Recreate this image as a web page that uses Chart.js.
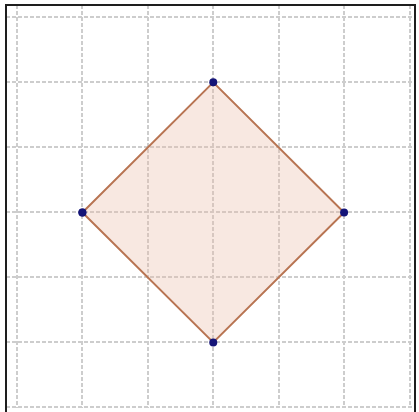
<!DOCTYPE html>
<html>
<head>
<meta charset="utf-8">
<script src="https://cdn.jsdelivr.net/npm/chart.js@4.4.0/dist/chart.umd.min.js"></script>
<style>
  html, body { margin: 0; padding: 0; background: #fff; overflow: hidden; }
  #wrap { width: 419px; height: 412px; position: relative; }
</style>
</head>
<body>
<div id="wrap"><canvas id="chart"></canvas></div>
<script>
// grid lines sit on whole units
const gridTicks = [0, 1, 2, 3, 4, 5, 6];

// diamond vertices (last repeats first to close it)
const shapeX = [1, 3, 5, 3, 1];
const shapeY = [3, 5, 3, 1, 3];

// black frame on left, top and right edges of the plot
const framePlugin = {
    id: 'frame',
    afterDraw(chart) {
        const { ctx, chartArea: a } = chart;
        ctx.save();
        ctx.strokeStyle = '#1e1e1e';
        ctx.lineWidth = 2;
        ctx.beginPath();
        ctx.moveTo(a.left, a.bottom + 4);
        ctx.lineTo(a.left, a.top);
        ctx.lineTo(a.right, a.top);
        ctx.lineTo(a.right, a.bottom + 4);
        ctx.stroke();
        ctx.restore();
    }
};

const gridOpts = {
    color: '#cdcdcd',
    lineWidth: 2,
    drawTicks: false,
    tickLength: 0
};

const ctx = document.getElementById('chart').getContext('2d');
new Chart(ctx, {
    type: 'scatter',
    data: {
        datasets: [{
            data: shapeX.map((x, i) => ({ x: x, y: shapeY[i] })),
            showLine: true,
            fill: 'shape',
            backgroundColor: 'rgba(236, 190, 170, 0.35)',
            borderColor: '#b87452',
            borderWidth: 2,
            pointRadius: 4,
            pointBackgroundColor: '#141478',
            pointBorderColor: '#141478',
            pointBorderWidth: 0
        }]
    },
    options: {
        responsive: true,
        maintainAspectRatio: false,
        animation: false,
        layout: { padding: { left: 6, top: 5, right: 3.5, bottom: 0 } },
        plugins: { legend: { display: false }, tooltip: { enabled: false } },
        scales: {
            x: {
                type: 'linear',
                min: -0.168,
                max: 6.084,
                afterBuildTicks: s => { s.ticks = gridTicks.map(v => ({ value: v })); },
                ticks: { display: false },
                grid: gridOpts,
                border: { display: false, dash: [4, 2] }
            },
            y: {
                type: 'linear',
                min: -0.008,
                max: 6.19,
                afterBuildTicks: s => { s.ticks = gridTicks.map(v => ({ value: v })); },
                ticks: { display: false },
                grid: gridOpts,
                border: { display: false, dash: [4, 2] }
            }
        }
    },
    plugins: [framePlugin]
});
</script>
</body>
</html>
